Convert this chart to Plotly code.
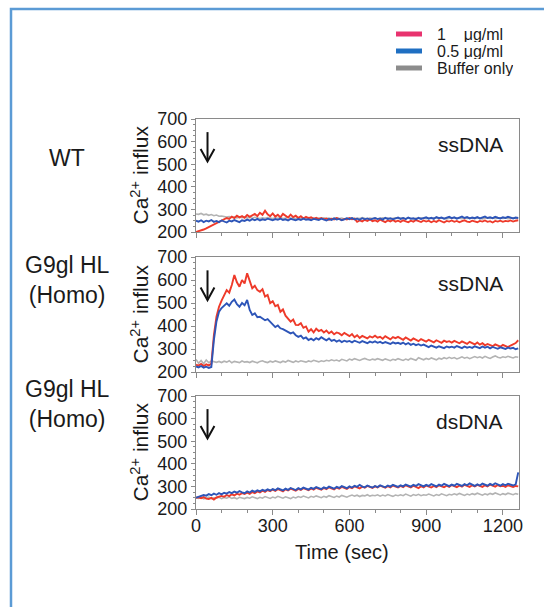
import plotly.graph_objects as go

W, H = 544, 607

# ---------------- data ----------------
time_sec = list(range(0, 1261, 10))  # 127 samples

panels = ["WT", "G9gl HL<br>(Homo)", "G9gl HL<br>(Homo)"]
panel_dna = ["ssDNA", "ssDNA", "dsDNA"]
series_names = ["Buffer only", "1 \u03bcg/ml", "0.5 \u03bcg/ml"]

wt_buffer = [280,278,282,276,279,274,277,272,275,270,
             271,268,266,268,264,266,262,265,263,266,
             262,264,261,265,262,260,263,261,264,262,
             260,263,261,264,260,262,265,261,263,260,
             262,259,263,261,264,260,262,258,262,260,
             263,260,262,259,261,263,260,262,258,261,
             260,263,259,262,260,264,261,259,262,260,
             262,259,261,263,260,262,258,261,263,260,
             261,263,259,262,260,258,262,260,263,261,
             259,262,260,263,261,259,262,260,258,261,
             262,260,263,261,259,262,260,263,261,259,
             262,260,258,261,263,260,262,259,261,263,
             260,262,259,261,263,260,262]
wt_1ug = [200,203,207,211,216,222,228,235,241,247,
          250,256,262,258,268,262,272,265,270,263,
          275,267,272,280,270,285,276,294,278,270,
          282,268,276,265,280,270,264,277,266,272,
          262,270,260,267,261,265,258,263,257,262,
          256,260,254,259,255,262,256,253,258,255,
          262,256,259,245,251,247,254,249,256,248,
          252,246,255,249,244,251,247,253,246,250,
          245,252,248,243,250,246,253,247,244,251,
          246,250,243,249,245,252,247,242,249,246,
          251,245,249,243,248,252,246,244,250,247,
          243,249,246,251,245,248,242,249,246,250,
          245,249,247,251,246,250,252]
wt_05ug = [250,246,252,244,250,247,253,245,249,244,
           251,246,242,250,247,253,248,244,252,249,
           255,250,257,252,258,251,256,253,259,254,
           252,257,254,259,253,256,251,258,255,252,
           257,253,259,254,256,252,258,255,253,259,
           254,251,257,253,260,255,258,252,256,261,
           257,262,255,259,254,261,256,260,255,258,
           262,257,260,255,263,258,261,256,260,264,
           258,262,257,264,259,261,256,263,258,262,
           265,259,263,258,266,261,264,259,262,267,
           261,265,259,263,268,262,266,260,264,261,
           266,260,264,268,262,265,261,267,263,260,
           265,262,267,263,260,264,262]

hl_ss_buffer = [255,238,250,236,252,240,248,244,242,246,
                241,247,243,249,240,246,244,241,248,243,
                245,241,247,243,240,246,249,244,241,247,
                243,248,244,241,247,243,250,245,242,248,
                244,249,246,243,248,245,251,247,244,249,
                246,251,248,253,249,252,247,255,251,248,
                256,252,258,253,250,255,259,254,251,256,
                253,258,255,251,257,253,249,255,252,258,
                254,250,256,252,259,255,251,262,257,253,
                259,255,261,257,253,260,256,262,258,264,
                259,263,257,261,266,260,264,258,262,267,
                262,266,261,268,263,259,265,270,264,261,
                266,263,268,264,261,266,264]
hl_ss_1ug = [232,228,235,226,233,229,236,360,440,484,
             510,532,556,545,578,622,590,571,600,585,
             629,596,564,575,556,549,560,528,535,499,
             508,486,492,462,472,445,432,419,428,405,
             404,412,392,398,375,386,372,388,378,383,
             372,380,368,376,364,372,368,360,370,362,
             356,365,351,360,348,357,352,346,355,350,
             358,349,353,345,356,350,342,352,347,353,
             346,340,350,343,337,346,340,334,343,338,
             332,340,335,329,338,333,327,336,331,334,
             328,335,330,325,333,327,322,331,326,320,
             328,319,325,316,322,318,312,320,314,310,
             318,312,308,315,320,326,338]
hl_ss_05ug = [224,220,226,219,223,218,222,340,420,462,
              478,490,499,488,505,515,495,484,500,490,
              513,470,448,455,438,440,432,425,430,419,
              410,395,402,390,386,379,375,368,372,360,
              353,358,345,350,339,345,338,347,341,351,
              344,338,346,335,340,332,338,330,336,332,
              335,329,336,331,327,334,329,325,332,328,
              333,327,331,325,330,326,322,329,324,327,
              322,328,320,326,318,323,317,321,315,319,
              313,308,315,310,306,312,308,304,311,307,
              310,306,313,308,304,311,306,309,305,312,
              308,304,311,306,310,303,309,305,301,307,
              304,300,306,302,305,299,303]

hl_ds_buffer = [250,247,252,245,249,253,246,250,248,252,
                246,251,248,253,247,250,245,252,249,246,
                251,248,254,249,246,252,248,255,250,247,
                253,249,256,251,248,254,250,246,253,249,
                255,251,257,253,249,256,252,258,254,250,
                256,252,259,254,251,257,253,260,256,252,
                258,262,257,261,255,260,258,263,257,261,
                259,263,257,262,258,264,260,256,262,259,
                263,259,266,261,257,264,260,265,259,263,
                261,266,262,258,264,260,267,262,259,265,
                262,267,263,269,264,260,266,262,268,264,
                270,265,261,267,263,269,265,271,266,262,
                268,264,270,266,263,268,265]
hl_ds_1ug = [250,252,248,253,246,244,249,242,251,255,
             258,254,262,257,265,260,268,263,270,266,
             272,267,275,270,278,273,281,276,284,279,
             286,280,288,283,278,287,282,290,285,281,
             289,284,292,287,283,291,286,294,289,285,
             293,288,296,291,287,295,290,298,293,289,
             297,292,300,295,291,299,294,302,297,293,
             300,295,303,298,294,301,296,304,299,295,
             302,297,305,300,295,303,298,292,301,296,
             304,299,295,302,297,305,300,296,303,298,
             306,301,297,304,299,307,302,298,305,300,
             307,302,298,305,300,308,303,299,306,301,
             303,298,305,300,297,302,300]
hl_ds_05ug = [250,255,258,262,259,266,261,268,263,270,
              265,272,268,275,270,277,272,279,274,270,
              278,273,281,276,283,278,285,280,287,282,
              288,283,291,286,282,290,285,293,288,284,
              292,287,295,290,286,294,289,297,292,288,
              296,291,299,294,290,298,293,301,296,292,
              300,295,303,298,307,299,296,304,299,295,
              302,297,305,300,296,304,299,307,302,298,
              305,300,308,303,299,307,302,310,304,300,
              307,302,310,305,300,308,303,311,306,301,
              308,303,311,306,302,310,305,313,307,302,
              309,304,312,307,303,311,306,314,308,303,
              310,305,312,307,304,309,362]

panel_series = [
    [wt_buffer, wt_1ug, wt_05ug],
    [hl_ss_buffer, hl_ss_1ug, hl_ss_05ug],
    [hl_ds_buffer, hl_ds_1ug, hl_ds_05ug],
]

x_ticks = [0, 300, 600, 900, 1200]
y_ticks = [200, 300, 400, 500, 600, 700]
legend_labels = ["1\u00a0\u00a0\u00a0\u00a0\u03bcg/ml", "0.5 \u03bcg/ml", "Buffer only"]
legend_colors = ["#e8336f", "#1f6fc2", "#8c8c8c"]

# ---------------- styling ----------------
line_colors = ["#b3b3b3", "#ee3a2a", "#2d55b8"]
line_widths = [1.6, 1.9, 1.9]
FONT = "Liberation Sans, Arial, Helvetica, sans-serif"
FRAME = "#8a8a8a"
TXT = "#1a1a1a"

# injection arrow (decoration, in axis units)
ARROW_X, ARROW_TOP, ARROW_TIP = 45, 642, 512
ARROW_HALF_W, ARROW_HEAD_H = 27, 55

def px_x(p):
    return p / W

def px_y(p):
    return 1 - p / H

panel_px = [(119, 232), (257, 372), (396, 509)]
x_px = (196, 519)

fig = go.Figure()
layout = dict(
    width=W, height=H,
    margin=dict(l=0, r=0, t=0, b=0),
    paper_bgcolor="white", plot_bgcolor="white",
    showlegend=False,
    font=dict(family=FONT, color=TXT),
)
annotations = []
shapes = []

for i in range(3):
    xa = "x" if i == 0 else f"x{i+1}"
    ya = "y" if i == 0 else f"y{i+1}"
    xkey = "xaxis" if i == 0 else f"xaxis{i+1}"
    ykey = "yaxis" if i == 0 else f"yaxis{i+1}"
    for s in range(3):
        fig.add_trace(go.Scatter(
            x=time_sec, y=panel_series[i][s], mode="lines",
            name=series_names[s],
            line=dict(color=line_colors[s], width=line_widths[s]),
            xaxis=xa, yaxis=ya, hoverinfo="skip",
        ))
    top, bot = panel_px[i]
    layout[xkey] = dict(
        domain=[px_x(x_px[0]), px_x(x_px[1])], anchor=ya,
        range=[0, 1263], tickvals=x_ticks,
        showticklabels=(i == 2), ticklabelstandoff=-5,
        ticks="outside", ticklen=5, tickcolor=FRAME, tickwidth=1,
        minor=dict(dtick=100, tick0=0, ticks="outside", ticklen=3, tickcolor=FRAME),
        showline=True, linecolor=FRAME, linewidth=1, mirror=True,
        showgrid=False, zeroline=False, automargin=False,
        tickfont=dict(size=18, family=FONT, color=TXT),
    )
    layout[ykey] = dict(
        domain=[px_y(bot), px_y(top)], anchor=xa,
        range=[200, 700], tickvals=y_ticks,
        ticks="outside", ticklen=4, tickcolor=FRAME, tickwidth=1,
        minor=dict(dtick=25, tick0=0, ticks="outside", ticklen=2, tickcolor=FRAME),
        showline=True, linecolor=FRAME, linewidth=1, mirror=True,
        showgrid=False, zeroline=False, automargin=False,
        tickfont=dict(size=18, family=FONT, color=TXT),
    )
    annotations.append(dict(
        x=1210, y=585, xref=xa, yref=ya, text=panel_dna[i],
        showarrow=False, xanchor="right", yanchor="middle",
        font=dict(size=21, family=FONT, color=TXT),
    ))
    shapes.append(dict(
        type="line", xref=xa, yref=ya,
        x0=ARROW_X, x1=ARROW_X, y0=ARROW_TOP, y1=ARROW_TIP + 3,
        line=dict(color="#111111", width=2),
    ))
    shapes.append(dict(
        type="path", xref=xa, yref=ya,
        path=(f"M {ARROW_X - ARROW_HALF_W},{ARROW_TIP + ARROW_HEAD_H} "
              f"L {ARROW_X},{ARROW_TIP} "
              f"L {ARROW_X + ARROW_HALF_W},{ARROW_TIP + ARROW_HEAD_H}"),
        line=dict(color="#111111", width=2),
    ))
    annotations.append(dict(
        x=px_x(139), y=px_y((top + bot) / 2), xref="paper", yref="paper",
        text="Ca<sup>2+</sup> influx", textangle=-90, showarrow=False,
        xanchor="center", yanchor="middle",
        font=dict(size=21, family=FONT, color=TXT),
    ))

row_label_y = [158, 280, 404]
for i in range(3):
    annotations.append(dict(
        x=px_x(67), y=px_y(row_label_y[i]), xref="paper", yref="paper",
        text=panels[i], showarrow=False, xanchor="center", yanchor="middle",
        font=dict(size=23, family=FONT, color=TXT),
    ))

annotations.append(dict(
    x=px_x(342), y=px_y(552), xref="paper", yref="paper",
    text="Time (sec)", showarrow=False, xanchor="center", yanchor="middle",
    font=dict(size=20, family=FONT, color=TXT),
))

legend_y = [34, 51, 68]
for k in range(3):
    shapes.append(dict(
        type="line", xref="paper", yref="paper",
        x0=px_x(396), x1=px_x(422), y0=px_y(legend_y[k]), y1=px_y(legend_y[k]),
        line=dict(color=legend_colors[k], width=5),
    ))
    annotations.append(dict(
        x=px_x(435), y=px_y(legend_y[k]), xref="paper", yref="paper",
        text=legend_labels[k], showarrow=False, xanchor="left", yanchor="middle",
        height=16, valign="middle",
        font=dict(size=16, family=FONT, color=TXT),
    ))

shapes.append(dict(
    type="rect", xref="paper", yref="paper",
    x0=px_x(11), x1=1.1, y0=-0.1, y1=px_y(9),
    line=dict(color="#5b9bd5", width=2.5), fillcolor="rgba(0,0,0,0)",
))

layout["annotations"] = annotations
layout["shapes"] = shapes
fig.update_layout(**layout)
fig.write_html(
    "out.html",
    config={"displayModeBar": False, "staticPlot": True},
    post_script="document.body.style.margin='0px';document.body.style.overflow='hidden';",
)
